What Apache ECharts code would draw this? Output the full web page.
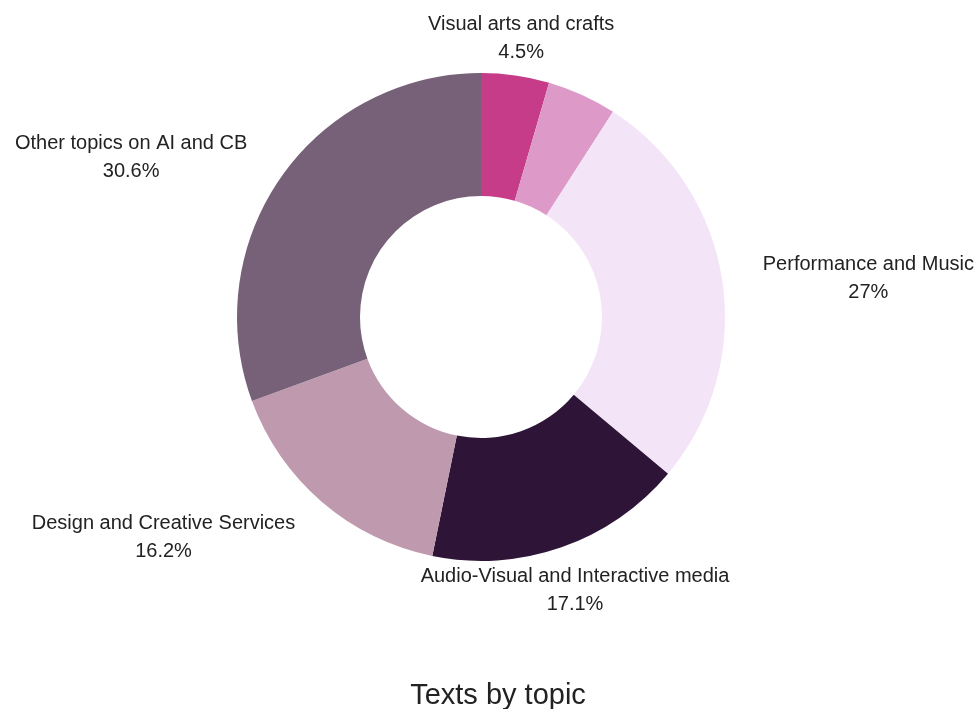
<!DOCTYPE html>
<html>
<head>
<meta charset="utf-8">
<script src="https://cdn.jsdelivr.net/npm/echarts@6/dist/echarts.min.js"></script>
<style>
  html, body { margin: 0; padding: 0; background: #fff; }
  #chart { width: 980px; height: 709px; }
</style>
</head>
<body>
<div id="chart"></div>
<script>
// slice data, clockwise from 12 o'clock
var topics = ['Visual arts and crafts', 'Unlabelled', 'Performance and Music',
  'Audio-Visual and Interactive media', 'Design and Creative Services', 'Other topics on AI and CB'];
var shares = [4.5, 4.6, 27, 17.1, 16.2, 30.6];
var colors = ['#c73c88', '#dd9ac8', '#f4e4f8', '#2e1538', '#bf9aaf', '#766178'];
var hiddenLabels = ['Unlabelled'];

var total = shares.reduce(function (a, b) { return a + b; }, 0);

// angle of a slice middle, degrees clockwise from top
function midAngle(i) {
  var before = 0;
  for (var k = 0; k < i; k++) before += shares[k];
  return (before + shares[i] / 2) / total * 360;
}

var chart = echarts.init(document.getElementById('chart'));

chart.setOption({
  animation: false,
  color: colors,
  title: {
    text: 'Texts by topic',
    left: 493,
    top: 676,
    textAlign: 'center',
    textStyle: {
      fontFamily: 'Liberation Sans',
      fontSize: 29,
      fontWeight: 'normal',
      color: '#222'
    }
  },
  series: [{
    type: 'pie',
    center: [481, 317],
    radius: [121, 244],
    startAngle: 90,
    clockwise: true,
    avoidLabelOverlap: false,
    label: {
      show: true,
      position: 'outside',
      formatter: '{b}\n{c}%',
      fontFamily: 'Liberation Sans',
      fontSize: 20,
      lineHeight: 28,
      color: '#222',
      distanceToLabelLine: 0
    },
    labelLine: {
      show: true,
      length: 41,
      length2: 0,
      lineStyle: { width: 0, opacity: 0 }
    },
    // lines centred inside each label; side labels hang off the ray point
    labelLayout: function (p) {
      var a = midAngle(p.dataIndex);
      var fromVertical = Math.min(a, Math.abs(180 - a), 360 - a);
      var half = p.labelRect.width / 2;
      var dx = 0;
      if (fromVertical >= 30) {
        dx = p.align === 'right' ? -half : half;
      }
      var x0 = p.align === 'right' ? p.labelRect.x + p.labelRect.width : p.labelRect.x;
      return { align: 'center', x: x0 + dx, dy: 4 };
    },
    data: topics.map(function (t, i) {
      var hide = hiddenLabels.indexOf(t) >= 0;
      return {
        name: t,
        value: shares[i],
        label: { show: !hide },
        labelLine: { show: !hide }
      };
    })
  }]
});
</script>
</body>
</html>
